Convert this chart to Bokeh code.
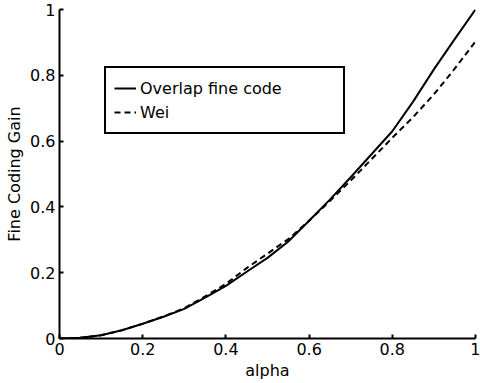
from bokeh.plotting import figure
from bokeh.models import Range1d, FixedTicker, CustomJSTickFormatter, Legend, LegendItem
from bokeh.embed import file_html
from bokeh.resources import INLINE

# Data
alpha = [0.0, 0.05, 0.1, 0.15, 0.2, 0.25, 0.3, 0.35, 0.4, 0.45, 0.5,
         0.55, 0.6, 0.65, 0.7, 0.75, 0.8, 0.85, 0.9, 0.95, 1.0]
overlap_gain = [0.0, 0.002, 0.01, 0.025, 0.045, 0.066, 0.09, 0.124, 0.16, 0.203, 0.245,
                0.295, 0.358, 0.422, 0.49, 0.56, 0.63, 0.72, 0.818, 0.91, 1.0]
wei_gain = [0.0, 0.002, 0.01, 0.025, 0.045, 0.067, 0.092, 0.128, 0.166, 0.214, 0.258,
            0.302, 0.358, 0.418, 0.48, 0.545, 0.61, 0.673, 0.742, 0.82, 0.903]
tick_values = [0, 0.2, 0.4, 0.6, 0.8, 1.0]
series_names = ["Overlap fine code", "Wei"]

FONT = "DejaVu Sans"

p = figure(width=480, height=383, output_backend="svg", toolbar_location=None,
           x_range=Range1d(0, 1), y_range=Range1d(0, 1),
           min_border_left=59, min_border_right=5, min_border_top=9, min_border_bottom=45)
p.xgrid.visible = False
p.ygrid.visible = False
p.outline_line_color = None
p.background_fill_color = "white"
p.border_fill_color = "white"

r1 = p.line(alpha, overlap_gain, line_color="black", line_width=2)
r2 = p.line(alpha, wei_gain, line_color="black", line_width=2, line_dash="6 4")

fmt = CustomJSTickFormatter(code="return Number(tick.toFixed(1)).toString();")
for ax in (p.xaxis[0], p.yaxis[0]):
    ax.ticker = FixedTicker(ticks=tick_values)
    ax.formatter = fmt
    ax.axis_line_width = 2
    ax.axis_line_color = "black"
    ax.major_tick_line_width = 2
    ax.major_tick_line_color = "black"
    ax.major_tick_in = 4
    ax.major_tick_out = 0
    ax.minor_tick_line_color = None
    ax.major_label_text_font = FONT
    ax.major_label_text_font_size = "16px"
    ax.major_label_text_color = "black"
    ax.major_label_standoff = 4
    ax.axis_label_text_font = FONT
    ax.axis_label_text_font_size = "16px"
    ax.axis_label_text_font_style = "normal"
    ax.axis_label_text_color = "black"
    ax.axis_label_standoff = 3

p.xaxis.axis_label = "alpha"
p.yaxis.axis_label = "Fine Coding Gain"

legend = Legend(items=[LegendItem(label=series_names[0], renderers=[r1]),
                       LegendItem(label=series_names[1], renderers=[r2])],
                location=(45, 204), padding=8, spacing=0,
                label_height=24, glyph_height=24, glyph_width=22,
                label_standoff=4, label_width=195,
                label_text_font=FONT, label_text_font_size="16px",
                label_text_color="black",
                border_line_color="black", border_line_width=2, border_line_alpha=1.0,
                background_fill_alpha=1.0, margin=0)
p.add_layout(legend)

open("out.html", "w").write(file_html(p, INLINE))
